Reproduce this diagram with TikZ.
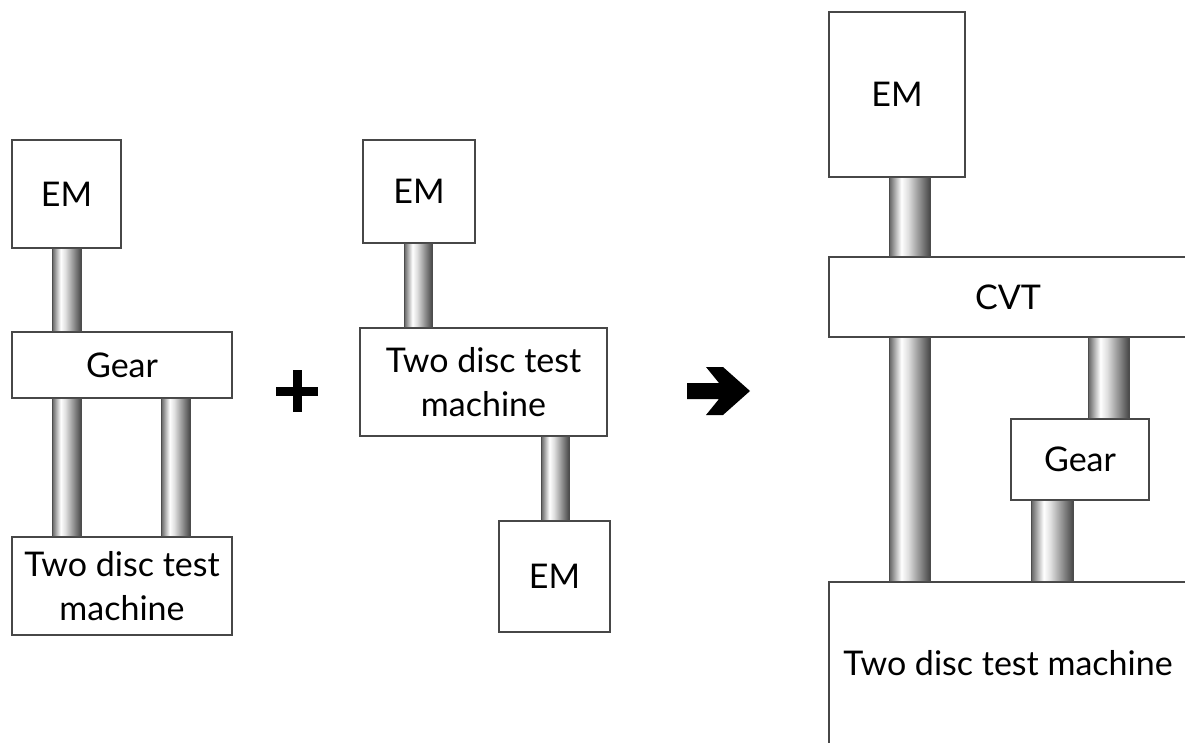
\documentclass[tikz,border=0pt]{standalone}
\usepackage{fontspec}
\setmainfont{Lato}
\pgfdeclarehorizontalshading{shaftgrad}{100bp}{color(0bp)=(black!62); color(25bp)=(black!62); color(40bp)=(white); color(48bp)=(black!12); color(75bp)=(black!72); color(100bp)=(black!72)}
\tikzset{
  box/.style={draw=black!72, line width=1.6pt, fill=white, rectangle, inner sep=0pt, align=center,
    font=\fontsize{34}{44}\selectfont},
  shaftstyle/.style={shading=shaftgrad, draw=black!70, line width=1pt},
  sym/.style={fill=black, draw=none}
}
\newcommand{\shaft}[4]{\shade[shaftstyle] (#1,0 |- #3.south) rectangle (#2,0 |- #4.north);}
\begin{document}
\begin{tikzpicture}[x=1pt,y=-1pt]
\useasboundingbox (0,0) rectangle (1185,742);
\clip (0,0) rectangle (1185,742);
% left group
\node[box, minimum width=109, minimum height=108] (em1) at (66.5,194) {EM};
\node[box, minimum width=220, minimum height=66] (gear1) at (122,365) {Gear};
\node[box, minimum width=220, minimum height=98] (tdm1) at (122,586) {Two disc test\\machine};
\shaft{52}{81}{em1}{gear1}
\shaft{52}{81}{gear1}{tdm1}
\shaft{161}{190}{gear1}{tdm1}
% plus
\fill[sym] (276,386.5) rectangle (318,395.5);
\fill[sym] (292.5,370) rectangle (301.5,412);
% middle group
\node[box, minimum width=112, minimum height=103] (em2) at (419,191.5) {EM};
\node[box, minimum width=247, minimum height=108] (tdm2) at (483.5,382) {Two disc test\\machine};
\node[box, minimum width=111, minimum height=111] (em3) at (554.5,576.5) {EM};
\shaft{404}{432}{em2}{tdm2}
\shaft{541}{569}{tdm2}{em3}
% arrow
\fill[sym] (687,383) -- (719,383) -- (706,367) -- (723,367) -- (750,391) -- (723,415) -- (706,415) -- (719,399) -- (687,399) -- cycle;
% right group
\node[box, minimum width=136, minimum height=165] (em4) at (897,94.5) {EM};
\node[box, minimum width=358, minimum height=80] (cvt) at (1008,297) {CVT};
\node[box, minimum width=138, minimum height=81] (gear4) at (1080,459.5) {Gear};
\node[box, minimum width=358, minimum height=163] (tdm4) at (1008,663.5) {Two disc test machine};
\shaft{889}{930}{em4}{cvt}
\shaft{889}{930}{cvt}{tdm4}
\shaft{1088}{1129}{cvt}{gear4}
\shaft{1031}{1073}{gear4}{tdm4}
\end{tikzpicture}
\end{document}
